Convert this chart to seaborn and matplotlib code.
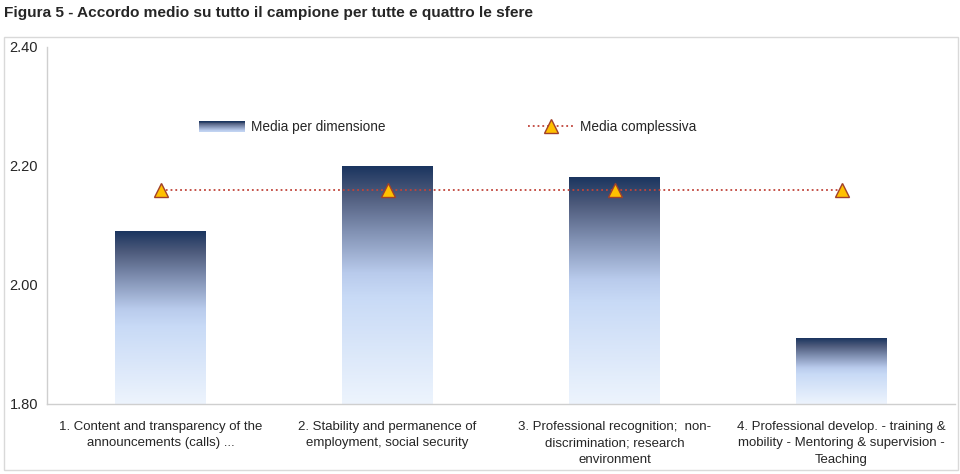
import numpy as np
import pandas as pd
import matplotlib
matplotlib.use("Agg")
import matplotlib.pyplot as plt
import seaborn as sns
from matplotlib.colors import LinearSegmentedColormap
from matplotlib.patches import Rectangle
from matplotlib.lines import Line2D
from matplotlib.legend_handler import HandlerBase

# data
categories = [
    "1. Content and transparency of the\nannouncements (calls) ...",
    "2. Stability and permanence of\nemployment, social security",
    "3. Professional recognition;  non-\ndiscrimination; research\nenvironment",
    "4. Professional develop. - training &\nmobility - Mentoring & supervision -\nTeaching",
]
media_dimensione = [2.09, 2.20, 2.18, 1.91]
media_complessiva = [2.16, 2.16, 2.16, 2.16]
yticks = [1.80, 2.00, 2.20, 2.40]

df = pd.DataFrame({"cat": categories, "dim": media_dimensione, "tot": media_complessiva})

sns.set_style("white")
plt.rcParams["font.family"] = ["Liberation Sans", "DejaVu Sans"]

grad = LinearSegmentedColormap.from_list(
    "bar", [(0.0, "#1b355f"), (0.12, "#4e5b7c"), (0.28, "#8393b5"),
            (0.45, "#b9cbec"), (0.55, "#c8daf6"), (1.0, "#edf4fd")])

line_col = "#c0443a"
mk = dict(marker="^", markersize=10, markerfacecolor="#ffc000",
          markeredgecolor="#a0402a", markeredgewidth=1.0)

fig = plt.figure(figsize=(9.6, 4.74), dpi=100)
ax = fig.add_axes([0.049, 0.148, 0.946, 0.753])

sns.barplot(data=df, x="cat", y="dim", ax=ax, width=0.40, color="#8fa3c7")
ymin = yticks[0]
for p in ax.patches:
    x0, w, h = p.get_x(), p.get_width(), p.get_height()
    p.set_alpha(0)
    ax.imshow(np.linspace(0, 1, 256).reshape(-1, 1), cmap=grad, aspect="auto",
              extent=[x0, x0 + w, ymin, h], zorder=2)

sns.pointplot(data=df, x="cat", y="tot", ax=ax, errorbar=None, color=line_col,
              markers="^", linestyles=":", linewidth=1.3,
              markersize=10, markerfacecolor="#ffc000",
              markeredgecolor="#a0402a", markeredgewidth=1.0)
for ln in ax.lines:
    ln.set_zorder(4)

ax.set_xlim(-0.5, 3.5)
ax.set_ylim(1.80, 2.40)
ax.set_yticks(yticks)
ax.set_yticklabels([f"{v:.2f}" for v in yticks], fontsize=10.5)
ax.set_xticks(range(len(categories)))
ax.set_xticklabels(categories, fontsize=9.5, linespacing=1.55)
ax.tick_params(axis="x", length=0, pad=12)
ax.tick_params(axis="y", length=5, color="#bbbbbb", direction="out", pad=1.5)
ax.set_xticks([-0.5, 0.5, 1.5, 2.5, 3.5], minor=True)
ax.tick_params(axis="x", which="minor", length=5, color="#cccccc", direction="out")
ax.set_xlabel("")
ax.set_ylabel("")
for side in ["top", "right"]:
    ax.spines[side].set_visible(False)
for side in ["left", "bottom"]:
    ax.spines[side].set_color("#cfcfcf")
    ax.spines[side].set_linewidth(1.0)


class GradHandler(HandlerBase):
    def create_artists(self, legend, orig, xd, yd, w, h, fs, trans):
        n = 12
        out = []
        for i in range(n):
            c = grad(i / (n - 1) * 0.5)
            out.append(Rectangle((xd, yd + h * 0.5 + 4 - (i + 1) * 0.7), w, 0.7,
                                 facecolor=c, edgecolor="none", transform=trans))
        return out


bar_handle = Rectangle((0, 0), 1, 1)
line_handle = Line2D([], [], color=line_col, linestyle=":", linewidth=1.3, **mk)
ax.legend([bar_handle, line_handle], ["Media per dimensione", "Media complessiva"],
          handler_map={bar_handle: GradHandler()}, ncol=2, frameon=False,
          loc="center", bbox_to_anchor=(0.441, 0.776), fontsize=9.8,
          handlelength=3.4, columnspacing=10.5, handletextpad=0.4)

fig.text(0.004, 0.988, "Figura 5 - Accordo medio su tutto il campione per tutte e quattro le sfere",
         fontsize=11.1, fontweight="bold", va="top", ha="left")
fig.add_artist(Rectangle((0.004, 0.008), 0.994, 0.914, transform=fig.transFigure,
                         fill=False, edgecolor="#d9d9d9", linewidth=1.0))

fig.savefig("out.png", dpi=100)
